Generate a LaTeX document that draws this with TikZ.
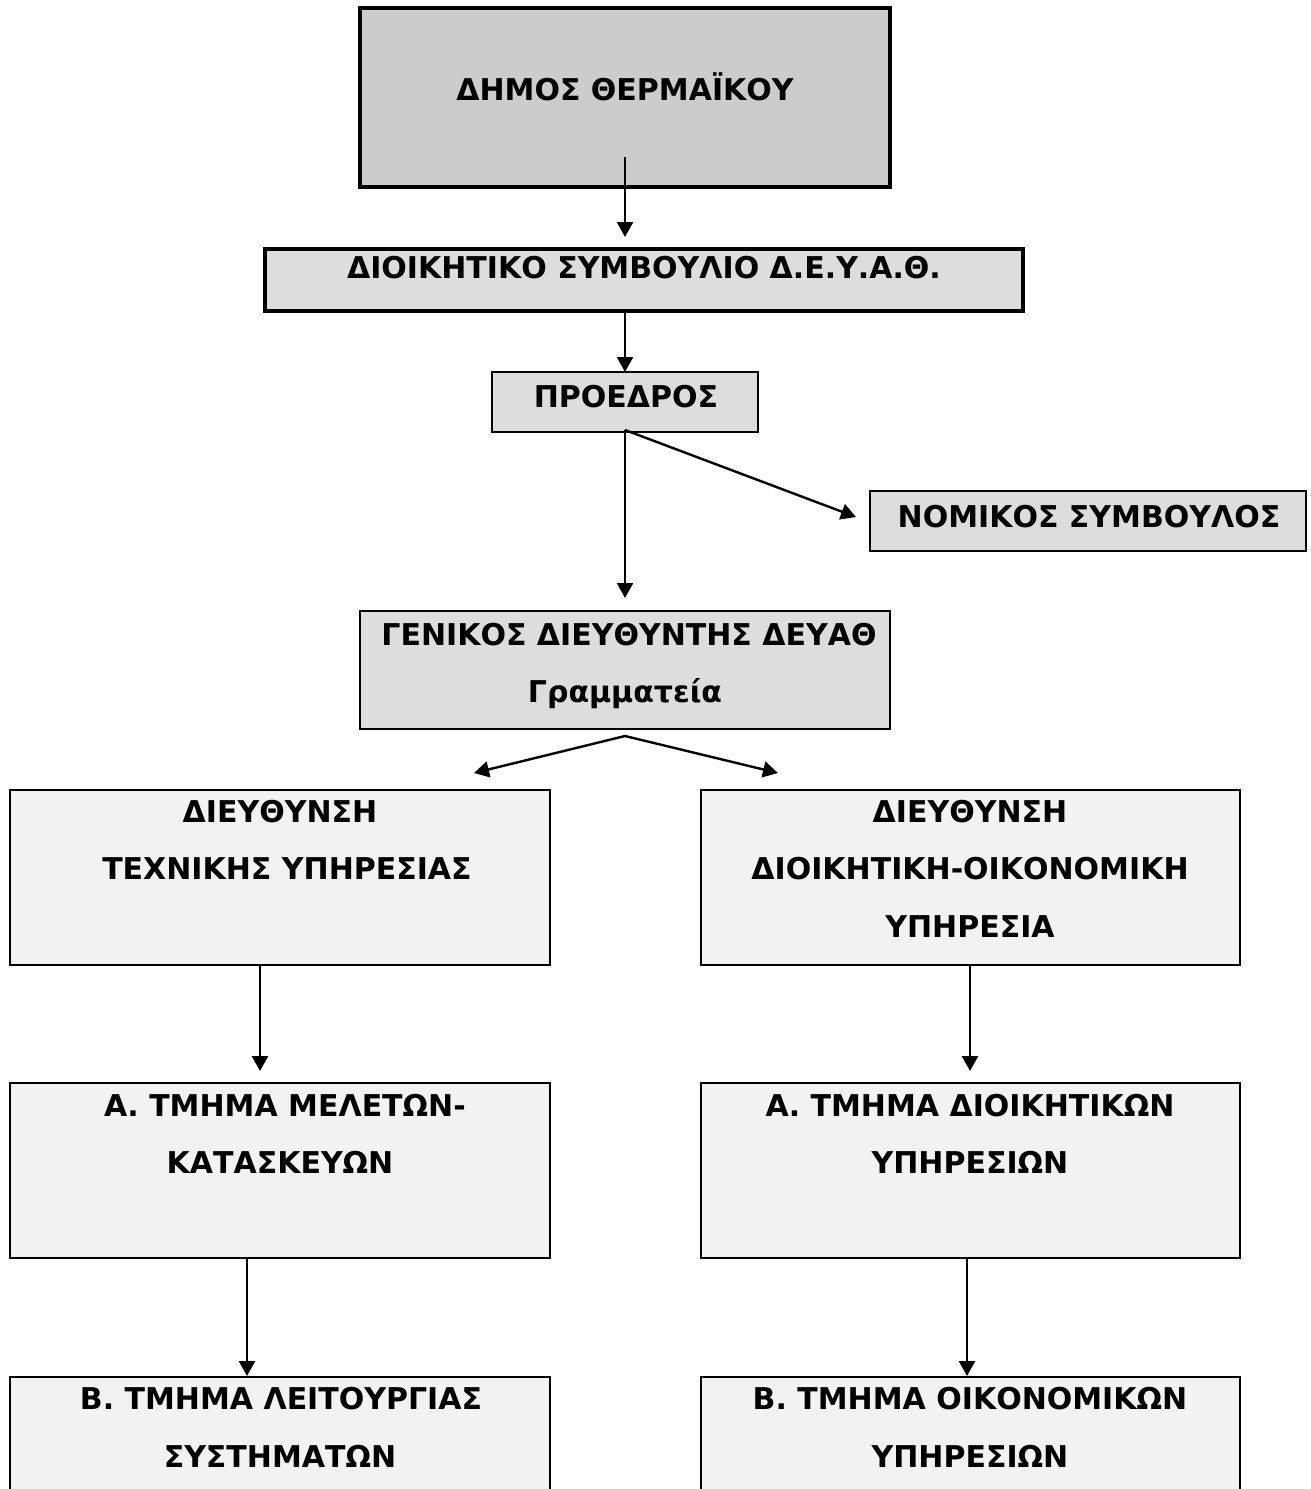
\documentclass[tikz,border=0pt]{standalone}
\usepackage{fontspec}
\setmainfont{DejaVu Sans}
\usetikzlibrary{arrows.meta}
\definecolor{gA}{HTML}{CCCCCC}
\definecolor{gB}{HTML}{DDDDDD}
\definecolor{gC}{HTML}{F2F2F2}
\tikzset{
  box/.style={draw=black, line width=2pt, inner sep=0pt, outer sep=0pt},
  thickbox/.style={box, line width=4pt},
  lbl/.style={inner sep=0pt, anchor=base, font=\fontsize{30}{30}\selectfont\bfseries},
  conn/.style={line width=2.4pt, -{Triangle[length=15pt,width=16pt]}},
}
\begin{document}
\begin{tikzpicture}[x=1pt,y=-1pt]
\useasboundingbox (0,0) rectangle (1311,1489);
\clip (0,0) rectangle (1311,1489);
% boxes
\node[thickbox, fill=gA, minimum width=530pt, minimum height=179pt] (b1) at (625,97.5) {};
\node[thickbox, fill=gB, minimum width=758pt, minimum height=62pt] (b2) at (644,280) {};
\node[box, fill=gB, minimum width=266pt, minimum height=60pt] (b3) at (625,402) {};
\node[box, fill=gB, minimum width=436pt, minimum height=60pt] (b4) at (1088,521) {};
\node[box, fill=gB, minimum width=530pt, minimum height=118pt] (b5) at (625,670) {};
\node[box, fill=gC, minimum width=540pt, minimum height=175pt] (b6) at (280,877.5) {};
\node[box, fill=gC, minimum width=539pt, minimum height=175pt] (b7) at (970.5,877.5) {};
\node[box, fill=gC, minimum width=540pt, minimum height=175pt] (b8) at (280,1170.5) {};
\node[box, fill=gC, minimum width=539pt, minimum height=175pt] (b9) at (970.5,1170.5) {};
\node[box, fill=gC, minimum width=540pt, minimum height=175pt] (b10) at (280,1464.5) {};
\node[box, fill=gC, minimum width=539pt, minimum height=175pt] (b11) at (970.5,1464.5) {};
% labels
\node[lbl] (t1) at (625,100) {ΔΗΜΟΣ ΘΕΡΜΑΪΚΟΥ};
\node[lbl] (t2) at (644,278) {ΔΙΟΙΚΗΤΙΚΟ ΣΥΜΒΟΥΛΙΟ Δ.Ε.Υ.Α.Θ.};
\node[lbl] (t3) at (626,407) {ΠΡΟΕΔΡΟΣ};
\node[lbl] (t4) at (1089,527) {ΝΟΜΙΚΟΣ ΣΥΜΒΟΥΛΟΣ};
\node[lbl] (t5a) at (629,645) {ΓΕΝΙΚΟΣ ΔΙΕΥΘΥΝΤΗΣ ΔΕΥΑΘ};
\node[lbl] (t5b) at (625,702) {Γραμματεία};
\node[lbl] (t6a) at (280,822) {ΔΙΕΥΘΥΝΣΗ};
\node[lbl] (t6b) at (287,879) {ΤΕΧΝΙΚΗΣ ΥΠΗΡΕΣΙΑΣ};
\node[lbl] (t7a) at (970,822) {ΔΙΕΥΘΥΝΣΗ};
\node[lbl] (t7b) at (970,879) {ΔΙΟΙΚΗΤΙΚΗ-ΟΙΚΟΝΟΜΙΚΗ};
\node[lbl] (t7c) at (970,937) {ΥΠΗΡΕΣΙΑ};
\node[lbl] (t8a) at (285,1116) {Α. ΤΜΗΜΑ ΜΕΛΕΤΩΝ-};
\node[lbl] (t8b) at (280,1173) {ΚΑΤΑΣΚΕΥΩΝ};
\node[lbl] (t9a) at (970,1116) {Α. ΤΜΗΜΑ ΔΙΟΙΚΗΤΙΚΩΝ};
\node[lbl] (t9b) at (970,1173) {ΥΠΗΡΕΣΙΩΝ};
\node[lbl] (t10a) at (281,1409) {Β. ΤΜΗΜΑ ΛΕΙΤΟΥΡΓΙΑΣ};
\node[lbl] (t10b) at (280,1467) {ΣΥΣΤΗΜΑΤΩΝ};
\node[lbl] (t11a) at (970,1409) {Β. ΤΜΗΜΑ ΟΙΚΟΝΟΜΙΚΩΝ};
\node[lbl] (t11b) at (970,1467) {ΥΠΗΡΕΣΙΩΝ};
% connector anchor points
\coordinate (c1) at (625,157);
\coordinate (c2) at (625,237);
\coordinate (c3) at (625,430);
\coordinate (c4) at (625,598);
\coordinate (c5) at (856,517);
\coordinate (c6) at (625,736);
\coordinate (c7) at (474,773);
\coordinate (c8) at (778,773);
\coordinate (c9) at (260,1071);
\coordinate (c10) at (970,1071);
\coordinate (c11) at (247,1376);
\coordinate (c12) at (967,1376);
% connectors
\draw[conn] (c1) -- (c2);
\draw[conn] (b2.south -| c1) -- (b3.north -| c1);
\draw[conn] (c3) -- (c4);
\draw[conn] (c3) -- (c5);
\draw[conn] (c6) -- (c7);
\draw[conn] (c6) -- (c8);
\draw[conn] (b6.south -| c9) -- (c9);
\draw[conn] (b7.south -| c10) -- (c10);
\draw[conn] (b8.south -| c11) -- (c11);
\draw[conn] (b9.south -| c12) -- (c12);
\end{tikzpicture}
\end{document}
